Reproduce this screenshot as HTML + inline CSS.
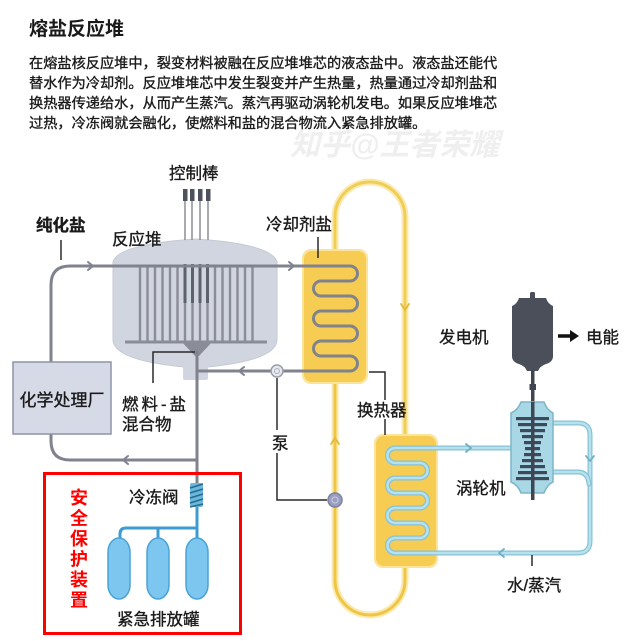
<!DOCTYPE html>
<html><head><meta charset="utf-8"><style>
html,body{margin:0;padding:0;background:#fff;}
svg{display:block;}
text{font-family:"Liberation Sans","Noto Sans CJK SC",sans-serif;fill:#1a1a1a;}
.md text,.md{stroke:#1a1a1a;stroke-width:0.35px;}
</style></head><body>
<svg width="640" height="641" viewBox="0 0 640 641" xmlns="http://www.w3.org/2000/svg">
<rect width="640" height="641" fill="#fff"/>
<!-- watermark -->
<text x="290" y="155" font-size="30" font-weight="bold" font-style="italic" style="fill:#efefef">知乎@王者荣耀</text>
<!-- title + paragraph -->
<text x="29" y="35" font-size="19" font-weight="bold">熔盐反应堆</text>
<g font-size="14.2" class="md">
<text x="29" y="68">在熔盐核反应堆中，裂变材料被融在反应堆堆芯的液态盐中。液态盐还能代</text>
<text x="29" y="88">替水作为冷却剂。反应堆堆芯中发生裂变并产生热量，热量通过冷却剂盐和</text>
<text x="29" y="108">换热器传递给水，从而产生蒸汽。蒸汽再驱动涡轮机发电。如果反应堆堆芯</text>
<text x="29" y="128">过热，冷冻阀就会融化，使燃料和盐的混合物流入紧急排放罐。</text>
</g>

<!-- yellow loop -->
<g fill="none" stroke-linecap="round">
<path d="M335,250 L335,217 A35,35 0 0 1 405,217 L405,435" stroke="#fbeab0" stroke-width="7"/>
<path d="M335,250 L335,217 A35,35 0 0 1 405,217 L405,435" stroke="#f0cd55" stroke-width="3"/>
<path d="M335,383 L335,580 A35,35 0 0 0 405,580 L405,567" stroke="#fbeab0" stroke-width="7"/>
<path d="M335,383 L335,580 A35,35 0 0 0 405,580 L405,567" stroke="#eec545" stroke-width="3"/>
<polyline points="401,304 405,310 409,304" stroke="#e3b93a" stroke-width="1.8"/>
<polyline points="331,444 335,438 339,444" stroke="#e3b93a" stroke-width="1.8"/>
</g>

<!-- heat exchanger boxes -->
<rect x="302" y="249" width="66" height="135" rx="9" fill="#fbe39a"/>
<rect x="304" y="251" width="62" height="131" rx="8" fill="#f6cc52"/>
<rect x="374" y="434" width="64" height="134" rx="9" fill="#fbe39a"/>
<rect x="376" y="436" width="60" height="130" rx="8" fill="#f6cc52"/>

<!-- reactor -->
<path d="M113,262 Q118,244 196,239 Q272,244 277,262 L277,340 Q276,362 196,368 Q114,362 113,340 Z" fill="#d0d5e0" stroke="#c4c9d4" stroke-width="1"/>
<rect x="183" y="355" width="25" height="25" rx="2" fill="#d0d5e0"/>
<g stroke="#8a8d96" stroke-width="1.5">
<line x1="185" y1="200" x2="185" y2="240"/><line x1="192" y1="200" x2="192" y2="240"/>
<line x1="200" y1="200" x2="200" y2="240"/><line x1="208" y1="200" x2="208" y2="240"/>
</g>
<g fill="#4c515c">
<rect x="183" y="189" width="4.5" height="12"/><rect x="190" y="189" width="4.5" height="12"/>
<rect x="198" y="189" width="4.5" height="12"/><rect x="206" y="189" width="4.5" height="12"/>
</g>
<g stroke="#8a8d97" stroke-width="2.4">
<line x1="140" y1="266" x2="140" y2="342"/><line x1="147.5" y1="266" x2="147.5" y2="342"/>
<line x1="155" y1="266" x2="155" y2="342"/><line x1="162.5" y1="266" x2="162.5" y2="342"/>
<line x1="170" y1="266" x2="170" y2="342"/><line x1="177.5" y1="266" x2="177.5" y2="342"/>
<line x1="185" y1="266" x2="185" y2="342"/><line x1="192.5" y1="266" x2="192.5" y2="342"/>
<line x1="200" y1="266" x2="200" y2="342"/><line x1="207.5" y1="266" x2="207.5" y2="342"/>
<line x1="215" y1="266" x2="215" y2="342"/><line x1="222.5" y1="266" x2="222.5" y2="342"/>
<line x1="230" y1="266" x2="230" y2="342"/><line x1="237.5" y1="266" x2="237.5" y2="342"/>
<line x1="245" y1="266" x2="245" y2="342"/><line x1="252.5" y1="266" x2="252.5" y2="342"/>
</g>
<g stroke="#5d616b" stroke-width="3">
<line x1="185" y1="264" x2="185" y2="303"/><line x1="192.5" y1="264" x2="192.5" y2="303"/>
<line x1="200" y1="264" x2="200" y2="303"/><line x1="207.5" y1="264" x2="207.5" y2="303"/>
</g>
<line x1="125" y1="342" x2="267" y2="342" stroke="#8a8d97" stroke-width="3"/>
<polygon points="181,341 213,341 199,356 195,356" fill="#8a8d97"/>

<!-- gray pipes -->
<g fill="none" stroke="#80838d" stroke-width="3" stroke-linecap="round" stroke-linejoin="round">
<path d="M51,362 L51,285 Q51,266 70,266 L350,266 A7.5,7.5 0 0 1 350,281 L321,281 A7.5,7.5 0 0 0 321,296 L350,296 A7.5,7.5 0 0 1 350,311 L321,311 A7.5,7.5 0 0 0 321,326 L350,326 A7.5,7.5 0 0 1 350,341 L321,341 A7.5,7.5 0 0 0 321,356 L350,356 A7.5,7.5 0 0 1 350,371 L197,371"/>
<path d="M197,352 L197,483"/>
<path d="M197,460 L70,460 Q51,460 51,441 L51,434"/>
<polyline points="88,262 93,266 88,270" stroke-width="2"/>
<polyline points="289,262 294,266 289,270" stroke-width="2"/>
<polyline points="244,367 239,371 244,375" stroke-width="2"/>
<polyline points="128,456 123,460 128,464" stroke-width="2"/>
</g>
<circle cx="277" cy="371" r="6" fill="#e6e8ef" stroke="#9a9da8" stroke-width="1.5"/>
<circle cx="277" cy="371" r="2.5" fill="none" stroke="#aeb1bb" stroke-width="1"/>
<circle cx="335" cy="500" r="7" fill="#9a9fc1" stroke="#7d819f" stroke-width="1.5"/>
<circle cx="335" cy="500" r="3" fill="none" stroke="#c8cbe0" stroke-width="1"/>

<!-- chemical plant -->
<rect x="13" y="362" width="98" height="72" fill="#d6dae7" stroke="#8e94a4" stroke-width="1.5"/>
<text x="62" y="406" font-size="17" text-anchor="middle" class="md">化学处理厂</text>

<!-- blue water loop -->
<g fill="none" stroke-linecap="round" stroke-linejoin="round">
<path d="M512,448 L395,448 A7.5,7.5 0 0 0 395,463 L420,463 A7.5,7.5 0 0 1 420,478 L395,478 A7.5,7.5 0 0 0 395,493 L420,493 A7.5,7.5 0 0 1 420,508 L395,508 A7.5,7.5 0 0 0 395,523 L420,523 A7.5,7.5 0 0 1 420,538 L395,538 A7.5,7.5 0 0 0 395,553 L578,553 Q590,553 590,541 L590,435 Q590,423 578,423 L553,423" stroke="#86c3d6" stroke-width="5"/>
<path d="M512,448 L395,448 A7.5,7.5 0 0 0 395,463 L420,463 A7.5,7.5 0 0 1 420,478 L395,478 A7.5,7.5 0 0 0 395,493 L420,493 A7.5,7.5 0 0 1 420,508 L395,508 A7.5,7.5 0 0 0 395,523 L420,523 A7.5,7.5 0 0 1 420,538 L395,538 A7.5,7.5 0 0 0 395,553 L578,553 Q590,553 590,541 L590,435 Q590,423 578,423 L553,423" stroke="#b6e1ed" stroke-width="2.5"/>
<path d="M553,472 L578,472 Q588,472 589,484" stroke="#86c3d6" stroke-width="5"/>
<path d="M553,472 L578,472 Q588,472 589,484" stroke="#b6e1ed" stroke-width="2.5"/>
<polyline points="466,444 471,448 466,452" stroke="#6fb0c6" stroke-width="1.8"/>
<polyline points="586,456 590,461 594,456" stroke="#6fb0c6" stroke-width="1.8"/>
<polyline points="504,549 499,553 504,557" stroke="#6fb0c6" stroke-width="1.8"/>
</g>

<!-- generator -->
<rect x="530" y="292" width="5" height="8" rx="1.5" fill="#4a4f5a"/>
<path d="M519,298 L546,298 Q548,304 553,306 L553,356 Q553,362 546,364 Q540,366 538,371 L527,371 Q525,366 519,364 Q512,362 512,356 L512,306 Q517,304 519,298 Z" fill="#4a4f5a"/>
<rect x="531" y="370" width="3.5" height="130" fill="#3f4551"/>
<rect x="529.5" y="384" width="6.5" height="6" fill="#3f4551"/>
<!-- turbine -->
<path d="M521,402 L544,402 Q547,410 553,413 L553,482 Q547,485 544,493 L521,493 Q518,485 511,482 L511,413 Q518,410 521,402 Z" fill="#a8d7e5" stroke="#7db5c9" stroke-width="1.5"/>
<g fill="#3e4959">
<rect x="516" y="417" width="33" height="3.2"/>
<rect x="518" y="423" width="29" height="3.2"/>
<rect x="520" y="429" width="25" height="3.2"/>
<rect x="522" y="435" width="21" height="3.2"/>
<rect x="524" y="441" width="17" height="3.2"/>
<rect x="525" y="447" width="15" height="3.2"/>
<rect x="524" y="453" width="17" height="3.2"/>
<rect x="522" y="459" width="21" height="3.2"/>
<rect x="520" y="465" width="25" height="3.2"/>
<rect x="518" y="471" width="29" height="3.2"/>
<rect x="516" y="477" width="33" height="3.2"/>
</g>
<rect x="531" y="402" width="3.5" height="97" fill="#3f4551"/>
<line x1="558" y1="336" x2="572" y2="336" stroke="#111" stroke-width="3.5"/>
<polygon points="570,330 579,336 570,342" fill="#111"/>

<!-- safety -->
<g fill="none" stroke="#3d9bd2" stroke-width="3" stroke-linecap="round" stroke-linejoin="round">
<path d="M197,507 L197,540"/>
<path d="M197,528 L126,528 Q120,528 120,534 L120,540"/>
<path d="M158,528 L158,540"/>
</g>
<rect x="190" y="483" width="13" height="24" rx="2" fill="#6ab8de"/>
<g stroke="#2a6a8a" stroke-width="1.6">
<line x1="190" y1="488" x2="203" y2="484"/><line x1="190" y1="493" x2="203" y2="489"/>
<line x1="190" y1="498" x2="203" y2="494"/><line x1="190" y1="503" x2="203" y2="499"/>
<line x1="190" y1="507" x2="203" y2="504"/>
</g>
<g fill="#7cc6ef" stroke="#4aa3d6" stroke-width="1.5">
<rect x="108" y="538" width="22" height="61" rx="11" ry="14"/>
<rect x="147" y="538" width="22" height="61" rx="11" ry="14"/>
<rect x="186" y="538" width="22" height="61" rx="11" ry="14"/>
</g>
<rect x="44.5" y="473.5" width="196" height="160" fill="none" stroke="#ff0000" stroke-width="3"/>
<g font-size="18" font-weight="bold">
<text x="70" y="504" style="fill:#f00">安</text>
<text x="70" y="524.5" style="fill:#f00">全</text>
<text x="70" y="545" style="fill:#f00">保</text>
<text x="70" y="565.5" style="fill:#f00">护</text>
<text x="70" y="586" style="fill:#f00">装</text>
<text x="70" y="606.5" style="fill:#f00">置</text>
</g>

<!-- leaders -->
<g stroke="#2a2a2a" stroke-width="1.5" fill="none">
<line x1="61" y1="240" x2="61" y2="260"/>
<line x1="318" y1="237" x2="318" y2="258"/>
<polyline points="153,383 153,352 195,352"/>
<line x1="277" y1="378" x2="277" y2="430"/>
<polyline points="277,453 277,500 327,500"/>
<polyline points="369,372 385,372 385,400"/>
<line x1="385" y1="419" x2="385" y2="435"/>
<line x1="532" y1="555" x2="532" y2="566"/>
</g>

<!-- labels -->
<g font-size="16.5" class="md">
<text x="169" y="179">控制棒</text>
<text x="36" y="231" font-weight="bold">纯化盐</text>
<text x="112" y="245">反应堆</text>
<text x="266" y="230">冷却剂盐</text>
<text x="122" y="410" textLength="64" lengthAdjust="spacing">燃料-盐</text>
<text x="122" y="430">混合物</text>
<text x="272" y="449">泵</text>
<text x="357" y="416">换热器</text>
<text x="439" y="343">发电机</text>
<text x="586" y="343">电能</text>
<text x="456" y="494">涡轮机</text>
<text x="507" y="591">水/蒸汽</text>
<text x="129" y="503">冷冻阀</text>
<text x="117" y="625">紧急排放罐</text>
</g>
</svg>
</body></html>
